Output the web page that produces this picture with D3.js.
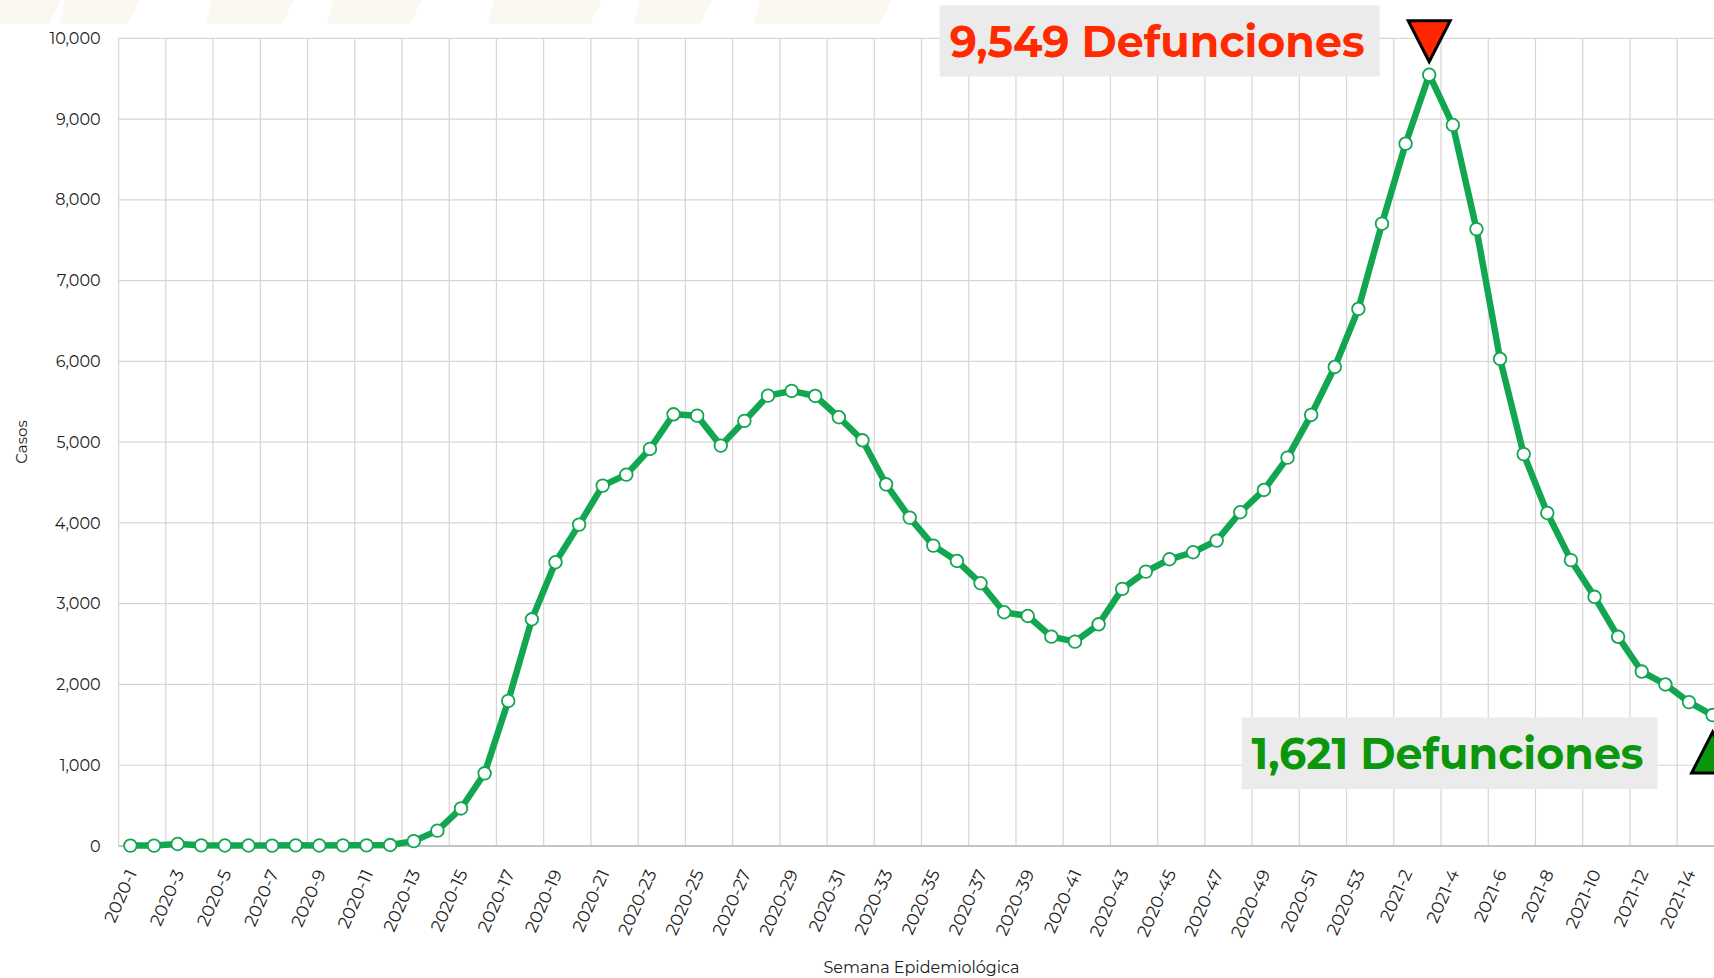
<!DOCTYPE html>
<meta charset="utf-8">
<style>
body { margin: 0; background: #fff; }
text { font-family: Montserrat, Inter, sans-serif; }
</style>
<body>
<script src="https://cdn.jsdelivr.net/npm/d3@7"></script>
<script>

// semanas epidemiologicas (2020-1 .. 2021-15)
var weeks = [
  "2020-1","2020-2","2020-3","2020-4","2020-5","2020-6","2020-7","2020-8","2020-9","2020-10",
  "2020-11","2020-12","2020-13","2020-14","2020-15","2020-16","2020-17","2020-18","2020-19","2020-20",
  "2020-21","2020-22","2020-23","2020-24","2020-25","2020-26","2020-27","2020-28","2020-29","2020-30",
  "2020-31","2020-32","2020-33","2020-34","2020-35","2020-36","2020-37","2020-38","2020-39","2020-40",
  "2020-41","2020-42","2020-43","2020-44","2020-45","2020-46","2020-47","2020-48","2020-49","2020-50",
  "2020-51","2020-52","2020-53","2021-1","2021-2","2021-3","2021-4","2021-5","2021-6","2021-7",
  "2021-8","2021-9","2021-10","2021-11","2021-12","2021-13","2021-14","2021-15"
];

// defunciones por semana
var deaths = [
  5, 5, 25, 8, 6, 6, 5, 8, 6, 8,
  8, 12, 60, 190, 465, 900, 1796, 2807, 3513, 3979,
  4462, 4598, 4916, 5345, 5328, 4957, 5263, 5576, 5634, 5572,
  5308, 5023, 4478, 4066, 3719, 3529, 3253, 2894, 2848, 2592,
  2530, 2745, 3183, 3397, 3550, 3637, 3781, 4132, 4408, 4808,
  5337, 5931, 6649, 7705, 8695, 9549, 8927, 7638, 6030, 4852,
  4123, 3539, 3085, 2590, 2160, 2000, 1781, 1621
];

var yTicks = [0, 1000, 2000, 3000, 4000, 5000, 6000, 7000, 8000, 9000, 10000];
var xTicks = weeks.filter(function(d, i) { return i % 2 === 0; });

var peakText = "9,549 Defunciones",
    lastText = "1,621 Defunciones";

var green = "#12a650";

var svg = d3.select("body").append("svg")
    .attr("width", 1714)
    .attr("height", 978);

// faint watermark at the top
var wm = svg.append("g").attr("fill", "#fbf8f1");
[[0,49],[65,128],[212,282],[333,410],[494,590],[640,700],[760,880]].forEach(function(s) {
  wm.append("path").attr("d", "M" + s[0] + ",0L" + (s[1] + 12) + ",0L" + s[1] + ",24L" + (s[0] - 6) + ",24Z");
});

var x = d3.scaleBand()
    .domain(weeks)
    .range([118.6, 1724.4]);

var y = d3.scaleLinear()
    .domain([0, 10000])
    .range([846, 38.3]);

var cx = function(d, i) { return x(weeks[i]) + x.bandwidth() / 2; };

// grid
svg.append("g").selectAll("line.h")
    .data(yTicks)
  .enter().append("line")
    .attr("x1", 118.6).attr("x2", 1724.4)
    .attr("y1", function(d) { return y(d); })
    .attr("y2", function(d) { return y(d); })
    .style("stroke", "#d6d6d6").style("stroke-width", 1.2);

svg.append("g").selectAll("line.v")
    .data(xTicks)
  .enter().append("line")
    .attr("x1", function(d) { return x(d); })
    .attr("x2", function(d) { return x(d); })
    .attr("y1", y(10000)).attr("y2", y(0))
    .style("stroke", "#d6d6d6").style("stroke-width", 1.2);

svg.append("line")
    .attr("x1", 118.6).attr("x2", 1724.4)
    .attr("y1", y(0)).attr("y2", y(0))
    .style("stroke", "#c4c4c4").style("stroke-width", 2);

// axes
var yAxis = svg.append("g")
    .attr("transform", "translate(118.6,0)")
    .call(d3.axisLeft(y).tickValues(yTicks).tickFormat(d3.format(",")).tickSize(0).tickPadding(18));
yAxis.select(".domain").remove();
yAxis.selectAll("text")
    .style("font-size", "16px").style("fill", "#222");

var xAxis = svg.append("g")
    .attr("transform", "translate(0," + y(0) + ")")
    .call(d3.axisBottom(x).tickValues(xTicks).tickSize(0));
xAxis.select(".domain").remove();
xAxis.selectAll("text")
    .attr("y", 0).attr("dy", 0)
    .attr("text-anchor", "end")
    .attr("transform", "translate(7,27) rotate(-66)")
    .style("font-size", "17.5px").style("fill", "#222");

svg.append("text")
    .attr("x", 921.5).attr("y", 973)
    .attr("text-anchor", "middle")
    .style("font-size", "16px").style("fill", "#222")
    .text("Semana Epidemiológica");

svg.append("text")
    .attr("transform", "translate(27,442) rotate(-90)")
    .attr("text-anchor", "middle")
    .style("font-size", "15px").style("fill", "#222")
    .text("Casos");

// serie
var line = d3.line()
    .x(cx)
    .y(function(d) { return y(d); });

svg.append("path")
    .datum(deaths)
    .attr("d", line)
    .style("fill", "none")
    .style("stroke", green)
    .style("stroke-width", 6.5)
    .style("stroke-linejoin", "round");

svg.selectAll("circle.pt")
    .data(deaths)
  .enter().append("circle")
    .attr("class", "pt")
    .attr("cx", cx)
    .attr("cy", function(d) { return y(d); })
    .attr("r", 6.3)
    .style("fill", "#fff")
    .style("stroke", green)
    .style("stroke-width", 1.8);

// anotaciones
var iMax = deaths.indexOf(d3.max(deaths)),
    iLast = deaths.length - 1;
var px = cx(null, iMax), py = y(deaths[iMax]);
var lx = cx(null, iLast), ly = y(deaths[iLast]);

svg.append("rect")
    .attr("x", px - 489.5).attr("y", 5.5)
    .attr("width", 440).attr("height", 71)
    .style("fill", "#ebebeb");
svg.append("text")
    .attr("x", px - 479.5).attr("y", 56.5)
    .attr("textLength", 415).attr("lengthAdjust", "spacingAndGlyphs")
    .style("font-size", "44px").style("font-weight", "bold").style("fill", "#ff2a00")
    .text(peakText);
svg.append("path")
    .attr("d", "M" + px + "," + (py - 13) + "L" + (px - 21) + "," + (py - 54) + "L" + (px + 21) + "," + (py - 54) + "Z")
    .style("fill", "#ff2600").style("stroke", "#000").style("stroke-width", 3)
    .style("stroke-linejoin", "miter");

svg.append("rect")
    .attr("x", lx - 471).attr("y", ly + 2.5)
    .attr("width", 416).attr("height", 71.5)
    .style("fill", "#ebebeb");
svg.append("text")
    .attr("x", lx - 461).attr("y", ly + 54)
    .attr("textLength", 392).attr("lengthAdjust", "spacingAndGlyphs")
    .style("font-size", "44px").style("font-weight", "bold").style("fill", "#0b960b")
    .text(lastText);
svg.append("path")
    .attr("d", "M" + lx + "," + (ly + 17) + "L" + (lx - 21) + "," + (ly + 58) + "L" + (lx + 21) + "," + (ly + 58) + "Z")
    .style("fill", "#0b960b").style("stroke", "#000").style("stroke-width", 3);

</script>
